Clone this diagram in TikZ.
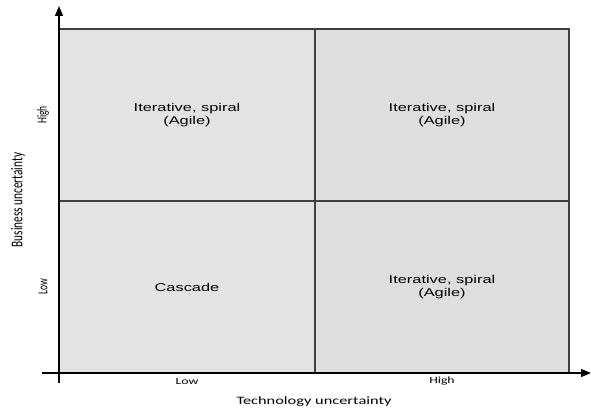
\documentclass[tikz,border=0pt]{standalone}
\usepackage{fontspec}
\usetikzlibrary{arrows.meta}
\setmainfont{Liberation Sans}[FakeStretch=1.45]
\newfontfamily\axisfont{Carlito}[FakeStretch=1.45]
\newfontfamily\sideaxisfont{Carlito}
\newcommand{\thick}[1]{\scalebox{1}[1.45]{#1}}
\definecolor{cellgray}{HTML}{DEDEDE}
\definecolor{cellgrayl}{HTML}{E3E3E3}
\tikzset{
	cell/.style 2 args={draw=black!75,line width=1.1pt,fill=#2,minimum width=#1,minimum height=172pt,inner sep=0pt,align=center,font=\fontsize{11.3}{13.3}\selectfont},
	axis/.style={line width=1.2pt,-{Triangle[length=10pt,width=8pt]}},
	xlab/.style={font=\axisfont\fontsize{9.5}{11}\selectfont,inner sep=0pt},
	ylab/.style={font=\sideaxisfont\fontsize{9.5}{11}\selectfont,inner sep=0pt,rotate=90},
	xtitle/.style={font=\axisfont\fontsize{11.3}{13}\selectfont,inner sep=0pt},
	ytitle/.style={font=\sideaxisfont\fontsize{11.3}{13}\selectfont,inner sep=0pt,rotate=90}
}

\begin{document}
\begin{tikzpicture}[x=1pt,y=-1pt]
	\useasboundingbox (0,0) rectangle (591,414);

	\node [cell={256pt}{cellgrayl}] (hl) at (187,115) {Iterative, spiral\\(Agile)};
	\node [cell={254pt}{cellgray}] (hh) at (442,115) {Iterative, spiral\\(Agile)};
	\node [cell={256pt}{cellgrayl}] (ll) at (187,287) {Cascade};
	\node [cell={254pt}{cellgray}] (lh) at (442,287) {Iterative, spiral\\(Agile)};

	\coordinate (ybot) at (59,383);
	\coordinate (ytop) at (59,6);
	\coordinate (xleft) at (42,373);
	\coordinate (xright) at (591,373);
	\draw [axis] (ybot) -- (ytop);
	\draw [axis] (xleft) -- (xright);

	\node [xlab] (xlow) at (187,381) {Low};
	\node [xlab] (xhigh) at (442,381) {High};
	\node [xtitle] (xname) at (314,402) {Technology uncertainty};

	\node [ylab] (yhigh) at (43,115) {\thick{High}};
	\node [ylab] (ylow) at (43,287) {\thick{Low}};
	\node [ytitle] (yname) at (18,200) {\thick{Business uncertainty}};
\end{tikzpicture}
\end{document}
